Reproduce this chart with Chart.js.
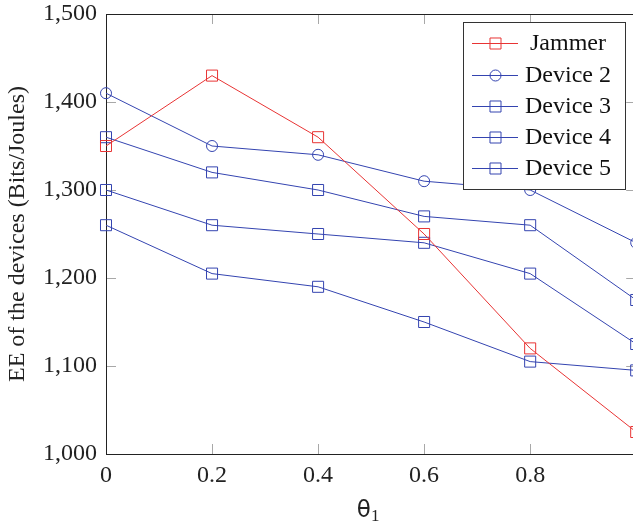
<!DOCTYPE html>
<html>
<head>
<meta charset="utf-8">
<script src="https://cdn.jsdelivr.net/npm/chart.js@4.4.1/dist/chart.umd.min.js"></script>
<style>
    html, body { margin: 0; padding: 0; overflow: hidden; background: #fff; }
    canvas { display: block; }
</style>
</head>
<body>
<canvas id="chart" width="645" height="527"></canvas>
<script>
const thetaValues = [0, 0.2, 0.4, 0.6, 0.8, 1];

const seriesNames = ['Jammer', 'Device 2', 'Device 3', 'Device 4', 'Device 5'];
const jammer = [1350, 1430, 1360, 1250, 1120, 1025];
const device2 = [1410, 1350, 1340, 1310, 1300, 1240];
const device3 = [1360, 1320, 1300, 1270, 1260, 1175];
const device4 = [1300, 1260, 1250, 1240, 1205, 1125];
const device5 = [1260, 1205, 1190, 1150, 1105, 1095];

const yTicks = [1000, 1100, 1200, 1300, 1400, 1500];
const xTicks = [0, 0.2, 0.4, 0.6, 0.8];

const RED = 'rgb(232, 52, 52)';
const BLUE = 'rgb(52, 68, 176)';
const SERIF = '"Liberation Serif", "Times New Roman", serif';

function makeSet(label, values, color, style) {
    return {
        label: label,
        data: values.map((v, i) => ({ x: thetaValues[i], y: v })),
        borderColor: color,
        borderWidth: 1,
        backgroundColor: 'transparent',
        pointStyle: style,
        pointRadius: style === 'circle' ? 5.5 : 7.8,
        pointBorderWidth: 1,
        pointBorderColor: color,
        pointBackgroundColor: 'transparent',
        tension: 0,
        clip: false
    };
}

// frame + inward ticks, pgfplots style
const framePlugin = {
    id: 'frame',
    beforeDatasetsDraw(chart) {
        const { ctx, chartArea: a, scales: { x, y } } = chart;
        ctx.save();
        ctx.strokeStyle = '#a8a8a8';
        ctx.lineWidth = 1;
        ctx.beginPath();
        xTicks.forEach(t => {
            if (t === 0) return;
            const px = Math.round(x.getPixelForValue(t)) + 0.5;
            ctx.moveTo(px, a.bottom); ctx.lineTo(px, a.bottom - 10);
            ctx.moveTo(px, a.top); ctx.lineTo(px, a.top + 10);
        });
        yTicks.forEach(t => {
            if (t === 1000 || t === 1500) return;
            const py = Math.round(y.getPixelForValue(t)) + 0.5;
            ctx.moveTo(a.left, py); ctx.lineTo(a.left + 10, py);
            ctx.moveTo(a.right, py); ctx.lineTo(a.right - 10, py);
        });
        ctx.stroke();
        ctx.strokeStyle = '#222';
        ctx.strokeRect(Math.round(a.left) + 0.5, Math.round(a.top) + 0.5,
            Math.round(a.right - a.left), Math.round(a.bottom - a.top));
        ctx.restore();
    },
    afterDraw(chart) {
        const { ctx, scales: { x } } = chart;
        // x axis title: theta with subscript 1
        ctx.save();
        ctx.fillStyle = '#222';
        ctx.textBaseline = 'alphabetic';
        const cx = (x.left + x.right) / 2 - 3;
        ctx.font = '23px "DejaVu Sans", sans-serif';
        const w1 = ctx.measureText('θ').width;
        ctx.font = '17px ' + SERIF;
        const w2 = ctx.measureText('1').width;
        const start = cx - (w1 + w2) / 2;
        ctx.font = '23px "DejaVu Sans", sans-serif';
        ctx.fillText('θ', start, 517);
        ctx.font = '17px ' + SERIF;
        ctx.fillText('1', start + w1, 521);
        ctx.restore();

        // legend box
        const box = { left: 463.5, top: 22.5, width: 162, height: 167 };
        const rows = [43, 75, 106, 137, 168];
        ctx.save();
        ctx.fillStyle = '#fff';
        ctx.fillRect(box.left, box.top, box.width, box.height);
        ctx.strokeStyle = '#333';
        ctx.lineWidth = 1;
        ctx.strokeRect(box.left, box.top, box.width, box.height);
        chart.data.datasets.forEach((ds, i) => {
            const yy = rows[i] + 0.5;
            ctx.strokeStyle = ds.borderColor;
            ctx.beginPath();
            ctx.moveTo(472, yy); ctx.lineTo(518, yy);
            ctx.stroke();
            ctx.fillStyle = 'rgba(0,0,0,0)';
            Chart.helpers.drawPoint(ctx, {
                pointStyle: ds.pointStyle,
                radius: ds.pointRadius,
                borderWidth: 1
            }, 495.5, yy);
            ctx.fillStyle = '#111';
            ctx.font = '24px ' + SERIF;
            ctx.textAlign = 'center';
            ctx.textBaseline = 'middle';
            ctx.fillText(ds.label, 568, rows[i] + 1);
        });
        ctx.restore();
    }
};

new Chart(document.getElementById('chart'), {
    type: 'line',
    plugins: [framePlugin],
    data: {
        datasets: [
            makeSet(seriesNames[0], jammer, RED, 'rect'),
            makeSet(seriesNames[1], device2, BLUE, 'circle'),
            makeSet(seriesNames[2], device3, BLUE, 'rect'),
            makeSet(seriesNames[3], device4, BLUE, 'rect'),
            makeSet(seriesNames[4], device5, BLUE, 'rect')
        ]
    },
    options: {
        responsive: false,
        animation: false,
        devicePixelRatio: 1,
        layout: { padding: { top: 14, right: 7, left: 0, bottom: 0 } },
        plugins: {
            legend: { display: false },
            tooltip: { enabled: false }
        },
        scales: {
            x: {
                type: 'linear',
                min: 0,
                max: 1,
                afterBuildTicks(scale) {
                    scale.ticks = thetaValues.map(v => ({ value: v }));
                },
                afterFit(scale) {
                    scale.height = 73;
                    scale.paddingLeft = 0;
                    scale.paddingRight = 0;
                },
                grid: { display: false, drawTicks: false },
                border: { display: false },
                ticks: {
                    padding: 7,
                    color: '#222',
                    font: { family: SERIF, size: 24 },
                    maxRotation: 0,
                    callback: v => (xTicks.includes(Math.round(v * 10) / 10) ? String(Math.round(v * 10) / 10) : '')
                }
            },
            y: {
                min: 1000,
                max: 1500,
                afterBuildTicks(scale) {
                    scale.ticks = yTicks.map(v => ({ value: v }));
                },
                afterFit(scale) {
                    scale.width = 106;
                    scale.paddingTop = 0;
                    scale.paddingBottom = 0;
                },
                grid: { display: false, drawTicks: false },
                border: { display: false },
                title: {
                    display: true,
                    text: 'EE of the devices (Bits/Joules)',
                    color: '#222',
                    font: { family: SERIF, size: 24 },
                    padding: { top: 3, bottom: 0 }
                },
                ticks: {
                    padding: 9,
                    color: '#222',
                    font: { family: SERIF, size: 24 },
                    callback: v => v.toLocaleString('en-US')
                }
            }
        }
    }
});
</script>
</body>
</html>
